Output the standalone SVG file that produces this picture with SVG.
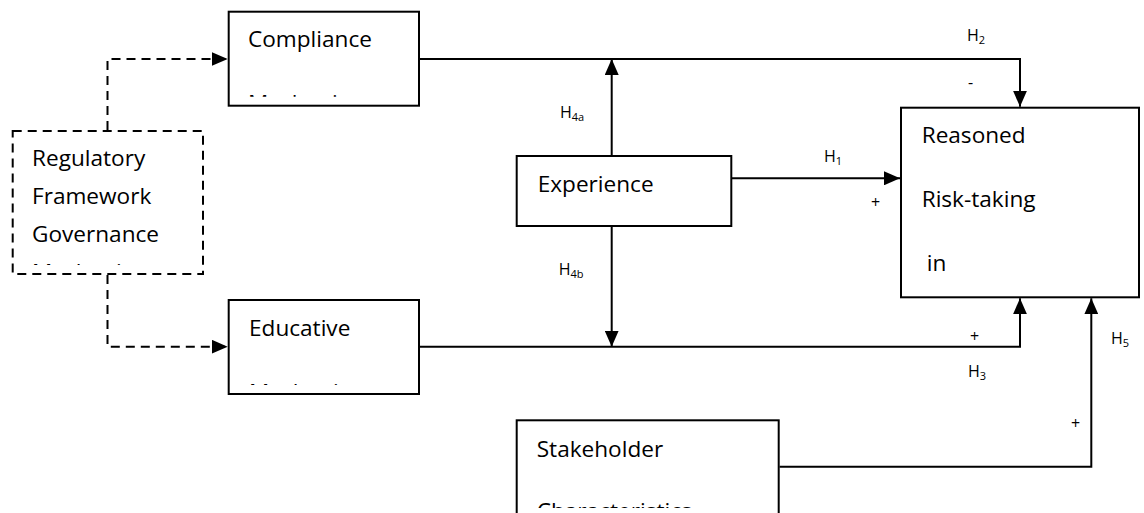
<svg xmlns="http://www.w3.org/2000/svg" width="1144" height="513" viewBox="0 0 1144 513">
<style>
.box{fill:#fff;stroke:#000;stroke-width:2}
.dbox{fill:#fff;stroke:#000;stroke-width:2;stroke-dasharray:9 6}
.t{font-family:"Open Sans","Noto Sans","Liberation Sans",sans-serif;font-size:22.6px;fill:#000}
.s{font-family:"Open Sans","Noto Sans","Liberation Sans",sans-serif;font-size:16px;fill:#000}
.sub{font-size:11px}
.ln{fill:none;stroke:#000;stroke-width:2}
.dl{fill:none;stroke:#000;stroke-width:2;stroke-dasharray:9 6}
</style>
<defs>
<marker id="arr" markerUnits="userSpaceOnUse" markerWidth="16" markerHeight="14" refX="16" refY="7" orient="auto" viewBox="0 0 16 14">
<path d="M0,0 L16,7 L0,14 Z" fill="#000"/>
</marker>
<clipPath id="cComp" clipPathUnits="userSpaceOnUse"><rect x="230" y="13" width="188" height="83.7"/></clipPath>
<clipPath id="cReg" clipPathUnits="userSpaceOnUse"><rect x="14" y="132" width="188" height="133"/></clipPath>
<clipPath id="cEdu" clipPathUnits="userSpaceOnUse"><rect x="230" y="301" width="188" height="84"/></clipPath>
<clipPath id="cStk" clipPathUnits="userSpaceOnUse"><rect x="518" y="421" width="260" height="87"/></clipPath>
</defs>

<g id="connectors">
<path class="ln" d="M420,59 H1020 V106.7" marker-end="url(#arr)"/>
<path class="ln" d="M611.7,155 V59" marker-end="url(#arr)"/>
<path class="ln" d="M732,178.3 H900" marker-end="url(#arr)"/>
<path class="ln" d="M611.7,227 V346.7" marker-end="url(#arr)"/>
<path class="ln" d="M420,346.7 H1020 V298.3" marker-end="url(#arr)"/>
<path class="ln" d="M779.5,466.7 H1091.3 V298.3" marker-end="url(#arr)"/>
<path class="dl" d="M107.5,130 V59 H227.7" marker-end="url(#arr)"/>
<path class="dl" d="M107.5,275 V346.7 H227.7" marker-end="url(#arr)"/>
<text class="s" x="967" y="40.7">H<tspan class="sub" dy="3">2</tspan></text>
<text class="s" x="968" y="88">-</text>
<text class="s" x="560" y="118">H<tspan class="sub" dy="3">4a</tspan></text>
<text class="s" x="824" y="161.7">H<tspan class="sub" dy="3">1</tspan></text>
<text class="s" x="871" y="208">+</text>
<text class="s" x="558.7" y="274.5">H<tspan class="sub" dy="3">4b</tspan></text>
<text class="s" x="970" y="341.5">+</text>
<text class="s" x="968" y="377">H<tspan class="sub" dy="3">3</tspan></text>
<text class="s" x="1111" y="344">H<tspan class="sub" dy="3">5</tspan></text>
<text class="s" x="1071" y="428.5">+</text>
</g>

<g id="compliance">
<rect class="box" x="228.7" y="11.7" width="190.3" height="94"/>
<g clip-path="url(#cComp)">
<text class="t" x="248" y="46.7">Compliance</text>
<text class="t" x="248" y="110.5">Mechanism</text>
</g>
</g>

<g id="regulatory">
<rect class="dbox" x="12.7" y="131" width="190.3" height="143"/>
<g clip-path="url(#cReg)">
<text class="t" x="32" y="166">Regulatory</text>
<text class="t" x="32" y="204">Framework</text>
<text class="t" x="32" y="242">Governance</text>
<text class="t" x="32" y="279.5">Mechanism</text>
</g>
</g>

<g id="educative">
<rect class="box" x="228.7" y="300" width="190.3" height="94"/>
<g clip-path="url(#cEdu)">
<text class="t" x="249" y="336">Educative</text>
<text class="t" x="249" y="400">Mechanism</text>
</g>
</g>

<g id="experience">
<rect class="box" x="516.7" y="156" width="214.6" height="70"/>
<text class="t" x="537.7" y="191.7">Experience</text>
</g>

<g id="reasoned">
<rect class="box" x="901" y="107.7" width="238" height="189.6"/>
<text class="t" x="921.7" y="142.7">Reasoned</text>
<text class="t" x="921.7" y="207.3">Risk-taking</text>
<text class="t" x="926.7" y="270.7">in</text>
</g>

<g id="stakeholder">
<rect class="box" x="516.7" y="420.3" width="262" height="120"/>
<g clip-path="url(#cStk)">
<text class="t" x="536.7" y="456.5">Stakeholder</text>
<text class="t" x="536.7" y="519">Characteristics</text>
</g>
</g>
</svg>
